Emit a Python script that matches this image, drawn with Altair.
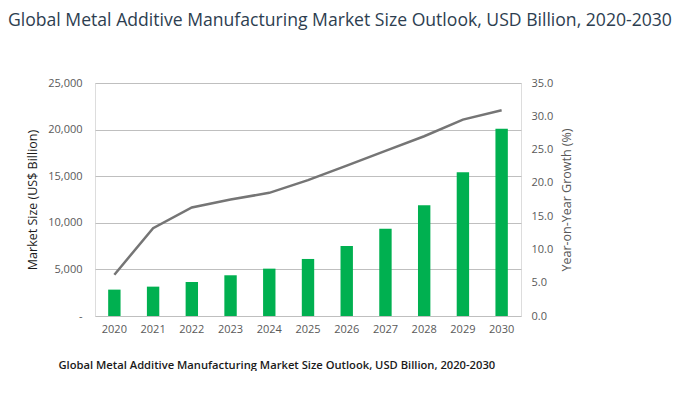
import altair as alt
import pandas as pd

years = ["2020", "2021", "2022", "2023", "2024", "2025", "2026", "2027", "2028", "2029", "2030"]
market_size = [2830, 3150, 3650, 4370, 5080, 6120, 7510, 9370, 11880, 15420, 20100]
yoy_growth = [6.2, 13.2, 16.3, 17.5, 18.5, 20.4, 22.6, 24.8, 27.0, 29.5, 30.9]

title_text = "Global Metal Additive Manufacturing Market Size Outlook, USD Billion, 2020-2030"
caption_text = "Global Metal Additive Manufacturing Market Size Outlook, USD Billion, 2020-2030"

df = pd.DataFrame({"year": years, "size": market_size, "growth": yoy_growth})

FONT = "Open Sans"

x_enc = alt.X(
    "year:O",
    sort=years,
    scale=alt.Scale(paddingInner=0.68, paddingOuter=0.34),
    axis=alt.Axis(
        title=caption_text,
        titleFont=FONT,
        titleFontSize=11.2,
        titleFontWeight=600,
        titleColor="#1a1a1a",
        titleAnchor="start",
        titleAlign="left",
        titleX=-37,
        titleY=49,
        titleBaseline="middle",
        labelAngle=0,
        labelFont=FONT,
        labelFontSize=11,
        labelColor="#595959",
        labelPadding=7,
        ticks=False,
        domain=False,
    ),
)

bars = alt.Chart(df).mark_bar(color="#00b050").encode(
    x=x_enc,
    y=alt.Y(
        "size:Q",
        scale=alt.Scale(domain=[0, 25000]),
        axis=alt.Axis(
            title="Market Size (US$ Billion)",
            titleFont=FONT,
            titleFontSize=12.5,
            titleFontWeight="normal",
            titleColor="#1a1a1a",
            titlePadding=8,
            values=[0, 5000, 10000, 15000, 20000, 25000],
            labelExpr="datum.value == 0 ? '-' : format(datum.value, ',')",
            labelFont=FONT,
            labelFontSize=11,
            labelColor="#595959",
            labelPadding=13,
            ticks=False,
            domain=False,
            grid=True,
            gridColor="#bfbfbf",
            gridWidth=1,
        ),
    ),
)

line = alt.Chart(df).mark_line(color="#757575", strokeWidth=2.5).encode(
    x=alt.X("year:O", sort=years),
    y=alt.Y(
        "growth:Q",
        scale=alt.Scale(domain=[0, 35]),
        axis=alt.Axis(
            title="Year-on-Year Growth (%)",
            orient="right",
            titleAngle=270,
            titleBaseline="top",
            titleFont=FONT,
            titleFontSize=12.5,
            titleFontWeight="normal",
            titleColor="#595959",
            titlePadding=8,
            values=[0, 5, 10, 15, 20, 25, 30, 35],
            format=".1f",
            labelFont=FONT,
            labelFontSize=11,
            labelColor="#595959",
            labelPadding=10,
            ticks=False,
            domain=False,
            grid=False,
        ),
    ),
)

chart = (
    alt.layer(bars, line)
    .resolve_scale(y="independent")
    .properties(
        width=426,
        height=233,
        padding={"left": 0, "top": 4, "right": 0, "bottom": 0},
        title=alt.TitleParams(
            text=title_text,
            anchor="start",
            frame="group",
            font=FONT,
            fontSize=17.6,
            fontWeight="normal",
            color="#2d3e50",
            offset=47,
            dx=-87,
        ),
    )
    .configure_view(stroke=None)
    .configure(background="white")
)

chart.save("out.html", embed_options={"renderer": "svg", "actions": False})
